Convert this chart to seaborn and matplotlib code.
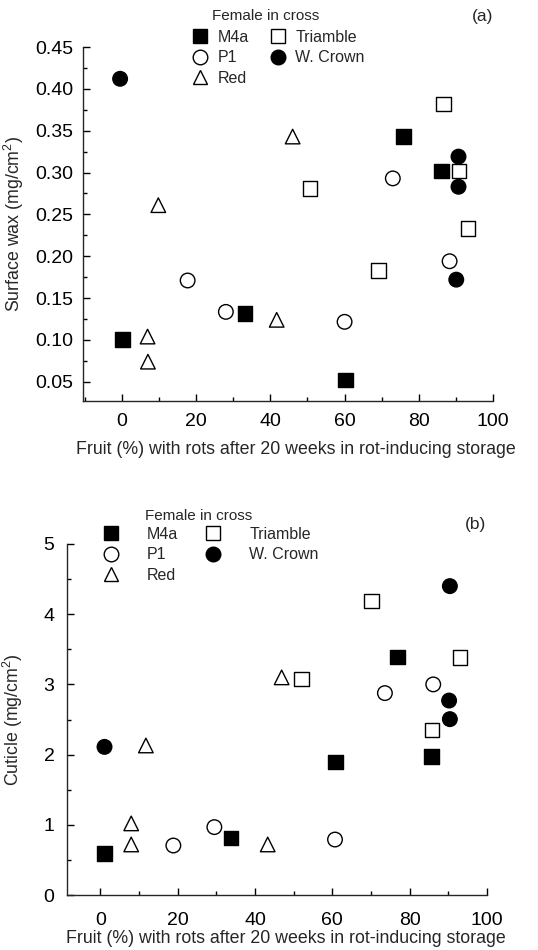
# Fruit rots vs surface wax / cuticle, by female parent in cross
import pandas as pd
import matplotlib
matplotlib.use('Agg')
import matplotlib.pyplot as plt
from matplotlib.lines import Line2D
from matplotlib.ticker import MultipleLocator
import seaborn as sns

# groups and how they are drawn
groups = ['M4a', 'P1', 'Red', 'Triamble', 'W. Crown']
marker_map = {'M4a': 's', 'P1': 'o', 'Red': '^', 'Triamble': 's', 'W. Crown': 'o'}
face_map = {'M4a': 'black', 'P1': 'white', 'Red': 'white', 'Triamble': 'white', 'W. Crown': 'black'}

# panel (a): surface wax
wax_group = ['M4a'] * 5 + ['P1'] * 5 + ['Red'] * 5 + ['Triamble'] * 5 + ['W. Crown'] * 4
wax_rot = [0.1, 33.2, 60.2, 75.9, 86.1,
           17.7, 28.0, 60.0, 73.0, 88.3,
           6.9, 7.0, 9.8, 41.7, 46.0,
           50.7, 69.2, 86.6, 90.8, 93.3,
           -0.5, 90.1, 90.7, 90.7]
wax_val = [0.1005, 0.1315, 0.052, 0.343, 0.302,
           0.171, 0.1335, 0.1216, 0.293, 0.194,
           0.104, 0.074, 0.261, 0.124, 0.343,
           0.281, 0.183, 0.382, 0.302, 0.233,
           0.412, 0.172, 0.319, 0.283]

# panel (b): cuticle
cut_group = ['M4a'] * 5 + ['P1'] * 5 + ['Red'] * 5 + ['Triamble'] * 4 + ['W. Crown'] * 4
cut_rot = [1.1, 33.8, 60.8, 76.9, 85.7,
           18.9, 29.5, 60.7, 73.6, 86.1,
           8.0, 8.0, 11.8, 43.3, 46.9,
           52.1, 70.1, 85.8, 93.0,
           1.1, 90.4, 90.2, 90.4]
cut_val = [0.59, 0.814, 1.895, 3.39, 1.97,
           0.705, 0.967, 0.79, 2.876, 3.0,
           0.72, 1.02, 2.13, 0.72, 3.10,
           3.08, 4.19, 2.35, 3.38,
           2.11, 4.4, 2.77, 2.505]

xlabel = 'Fruit (%) with rots after 20 weeks in rot-inducing storage'

sns.set_style('ticks')
plt.rcParams['font.family'] = ['Liberation Sans', 'DejaVu Sans']
plt.rcParams['mathtext.fontset'] = 'custom'
plt.rcParams['mathtext.rm'] = 'Liberation Sans'

fig = plt.figure(figsize=(5.38, 9.5), dpi=100)
ax1 = fig.add_axes([83 / 538, 1 - 401 / 950, 410 / 538, 354 / 950])
ax2 = fig.add_axes([67 / 538, 1 - 895 / 950, 420 / 538, 351 / 950])

df_a = pd.DataFrame({'rot': wax_rot, 'val': wax_val, 'group': wax_group})
df_b = pd.DataFrame({'rot': cut_rot, 'val': cut_val, 'group': cut_group})

for ax, df in [(ax1, df_a), (ax2, df_b)]:
    sns.scatterplot(data=df, x='rot', y='val', hue='group', style='group',
                    palette=face_map, markers=marker_map, hue_order=groups,
                    style_order=groups, s=110, edgecolor='black', linewidth=1,
                    legend=False, ax=ax, zorder=3)
    sns.despine(ax=ax)
    ax.spines['left'].set_linewidth(1)
    ax.spines['bottom'].set_linewidth(1)
    ax.xaxis.set_major_locator(MultipleLocator(20))
    ax.xaxis.set_minor_locator(MultipleLocator(10))
    ax.tick_params(which='both', direction='in', width=1, colors='black')
    ax.tick_params(which='major', length=5, labelsize=14)
    ax.tick_params(which='minor', length=3)

ax1.set_xlim(-10.5, 100)
ax1.set_ylim(0.027, 0.45)
ax1.yaxis.set_major_locator(MultipleLocator(0.05))
ax1.yaxis.set_minor_locator(MultipleLocator(0.025))
ax1.set_yticks([0.05, 0.10, 0.15, 0.20, 0.25, 0.30, 0.35, 0.40, 0.45])
ax1.yaxis.set_major_formatter(matplotlib.ticker.FormatStrFormatter('%.2f'))
ax1.tick_params(axis='x', pad=9)
ax1.tick_params(axis='y', pad=7)
ax1.set_xlabel(xlabel, fontsize=12.8)
ax1.set_ylabel('Surface wax (mg/cm$^2$)', fontsize=12.8)
ax1.xaxis.set_label_coords(0.52, -0.113)
ax1.yaxis.set_label_coords(-0.14, 0.5)

ax2.set_xlim(-8.6, 100)
ax2.set_ylim(0, 5)
ax2.yaxis.set_major_locator(MultipleLocator(1))
ax2.yaxis.set_minor_locator(MultipleLocator(0.5))
ax2.tick_params(axis='x', pad=12)
ax2.tick_params(axis='y', pad=9)
ax2.set_xlabel(xlabel, fontsize=12.8)
ax2.set_ylabel('Cuticle (mg/cm$^2$)', fontsize=12.8)
ax2.xaxis.set_label_coords(0.52, -0.1)
ax2.yaxis.set_label_coords(-0.1, 0.5)


def handles():
    return [Line2D([], [], linestyle='none', marker=marker_map[g], markersize=10.5,
                   markerfacecolor=face_map[g], markeredgecolor='black',
                   markeredgewidth=1, label=g) for g in groups]


# legend (a)
fig.legend(handles=handles(), ncol=2, loc='upper left', frameon=False,
           bbox_to_anchor=(192 / 538, 1 - 30 / 950), fontsize=11.5,
           handlelength=1.0, handletextpad=0.6, columnspacing=1.3,
           labelspacing=0.33, borderpad=0, borderaxespad=0)
fig.text(212 / 538, 1 - 16 / 950, 'Female in cross', fontsize=11, va='center', ha='left')
fig.text(493 / 538, 1 - 16 / 950, '(a)', fontsize=12.5, va='center', ha='right')

# legend (b)
fig.legend(handles=handles(), ncol=2, loc='upper left', frameon=False,
           bbox_to_anchor=(103 / 538, 1 - 527 / 950), fontsize=11.5,
           handlelength=1.0, handletextpad=1.75, columnspacing=1.7,
           labelspacing=0.33, borderpad=0, borderaxespad=0)
fig.text(145 / 538, 1 - 516 / 950, 'Female in cross', fontsize=11, va='center', ha='left')
fig.text(486 / 538, 1 - 525 / 950, '(b)', fontsize=12.5, va='center', ha='right')

fig.savefig('out.png', dpi=100)
